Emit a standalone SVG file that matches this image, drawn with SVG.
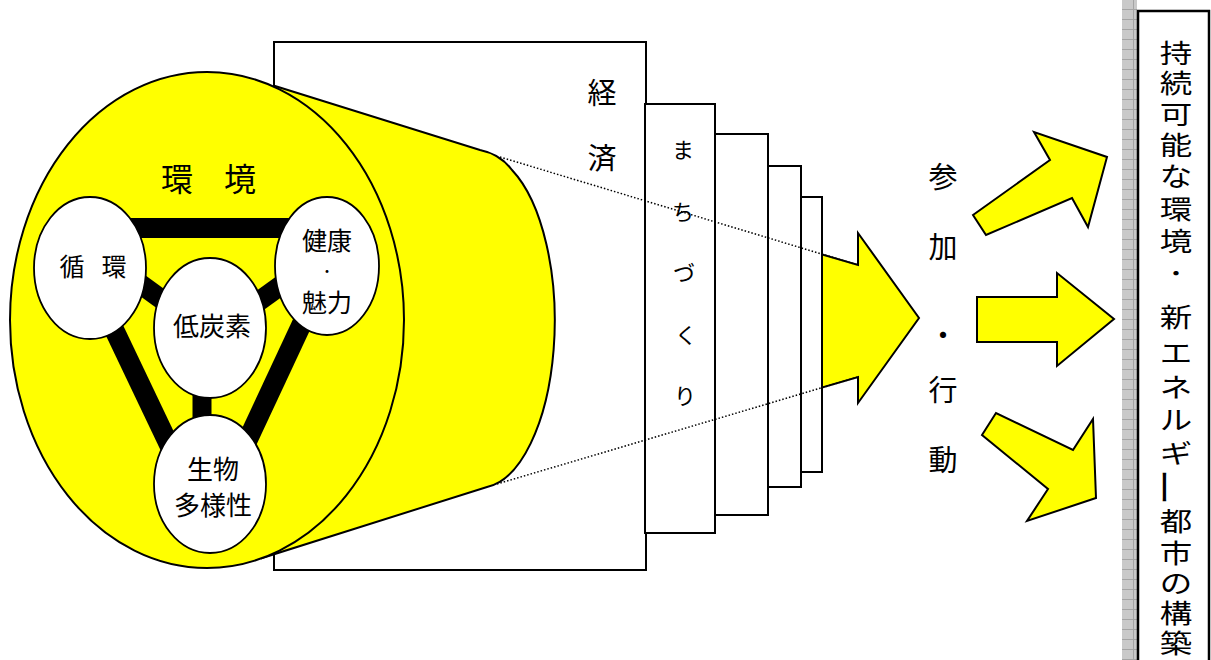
<svg xmlns="http://www.w3.org/2000/svg" width="1211" height="660" viewBox="0 0 1211 660">
<defs>
<style>
.t{font-family:'Noto Sans CJK JP','Noto Sans CJK SC',sans-serif;fill:#000;text-anchor:middle;dominant-baseline:central}
.box{fill:#fff;stroke:#000;stroke-width:2}
.yel{fill:#ffff00;stroke:#000;stroke-width:2;stroke-linejoin:miter}
.wel{fill:#fff;stroke:#000;stroke-width:1.8}
.bar{stroke:#000;stroke-width:20;fill:none}
.dot{stroke:#000;stroke-width:1.5;stroke-dasharray:1.5 2;fill:none}
</style>
<pattern id="grid" x="1122" y="0" width="15" height="10" patternUnits="userSpaceOnUse">
<rect width="15" height="10" fill="#c9c9c9"/>
<line x1="0" y1="9.5" x2="15" y2="9.5" stroke="#a4a4a4" stroke-width="1"/>
<line x1="11.5" y1="0" x2="11.5" y2="10" stroke="#a4a4a4" stroke-width="1"/>
</pattern>
</defs>

<g id="economy">
<rect class="box" x="274" y="42" width="372" height="528"/>
<text class="t" x="602" y="91" font-size="29">経</text>
<text class="t" x="602" y="156" font-size="29">済</text>
</g>

<g id="environment">
<path class="yel" d="M275,86 L480,150 Q500,154 512,170 A75,167 0 0 1 487,487 L262,558 Z"/>
<ellipse class="yel" cx="207" cy="320" rx="197" ry="248"/>
<text class="t" x="177" y="177" font-size="32">環</text>
<text class="t" x="240" y="177" font-size="32">境</text>
</g>

<g id="links">
<line class="bar" x1="120" y1="228" x2="300" y2="228"/>
<line class="bar" x1="110" y1="262" x2="190" y2="320"/>
<line class="bar" x1="305" y1="268" x2="230" y2="322"/>
<line class="bar" x1="100" y1="300" x2="182" y2="472"/>
<line class="bar" x1="320" y1="285" x2="236" y2="465"/>
<line stroke="#000" stroke-width="19" x1="202" y1="380" x2="202" y2="430"/>
</g>

<g id="node-junkan">
<ellipse class="wel" cx="90" cy="268" rx="56" ry="71"/>
<text class="t" x="72" y="265" font-size="25">循</text>
<text class="t" x="114" y="265" font-size="25">環</text>
</g>
<g id="node-kenko">
<ellipse class="wel" cx="327" cy="266" rx="52" ry="69"/>
<text class="t" x="327" y="239" font-size="25">健康</text>
<text class="t" x="327" y="270" font-size="14">・</text>
<text class="t" x="327" y="301" font-size="25">魅力</text>
</g>
<g id="node-teitanso">
<ellipse class="wel" cx="210" cy="328" rx="56" ry="70"/>
<text class="t" x="212" y="324" font-size="26">低炭素</text>
</g>
<g id="node-seibutsu">
<ellipse class="wel" cx="210" cy="484" rx="56" ry="69"/>
<text class="t" x="213" y="467" font-size="26">生物</text>
<text class="t" x="213" y="503" font-size="26">多様性</text>
</g>

<g id="arrow-main">
<path class="yel" d="M800,248 L858,265 L858,233 L919,318 L858,403 L858,377 L800,394 Z"/>
</g>

<g id="machizukuri">
<rect class="box" x="800" y="197" width="22" height="275"/>
<rect class="box" x="768" y="166" width="33" height="321"/>
<rect class="box" x="715" y="134" width="53" height="381"/>
<rect class="box" x="645" y="104" width="70" height="429"/>
<text class="t" x="683" y="148" font-size="22">ま</text>
<text class="t" x="683" y="210" font-size="22">ち</text>
<text class="t" x="684" y="271" font-size="22">づ</text>
<text class="t" x="686" y="333" font-size="22">く</text>
<text class="t" x="685" y="394" font-size="22">り</text>
</g>

<g id="connectors">
<line class="dot" x1="500" y1="157" x2="858" y2="265"/>
<line class="dot" x1="497" y1="484" x2="858" y2="377"/>
</g>

<g id="participation">
<text class="t" x="943" y="175" font-size="29">参</text>
<text class="t" x="943" y="245" font-size="29">加</text>
<text class="t" x="943" y="333" font-size="29">・</text>
<text class="t" x="943" y="388" font-size="29">行</text>
<text class="t" x="943" y="458" font-size="29">動</text>
</g>

<g id="arrows-out">
<polygon class="yel" points="973,215 1050,160 1034,132 1107,157 1088,227 1072,198 986,235"/>
<polygon class="yel" points="977,297 1057,297 1057,273 1114,319 1057,366 1057,342 977,342"/>
<polygon class="yel" points="982,435 996,413 1073,450 1093,419 1096,498 1027,521 1048,489"/>
</g>

<g id="goal">
<rect x="1122" y="0" width="15" height="660" fill="url(#grid)"/>
<rect x="1138" y="11" width="71" height="660" fill="#fff" stroke="#000" stroke-width="2.5"/>
<g transform="translate(1176 0) scale(1.25 1)">
<text class="t" x="0" y="52" font-size="26">持</text>
<text class="t" x="0" y="82" font-size="26">続</text>
<text class="t" x="0" y="113" font-size="26">可</text>
<text class="t" x="0" y="144" font-size="26">能</text>
<text class="t" x="0" y="175" font-size="26">な</text>
<text class="t" x="0" y="208" font-size="26">環</text>
<text class="t" x="0" y="240" font-size="26">境</text>
<text class="t" x="0" y="273" font-size="20">・</text>
<text class="t" x="0" y="316" font-size="26">新</text>
<text class="t" x="0" y="352" font-size="26">エ</text>
<text class="t" x="0" y="386" font-size="26">ネ</text>
<text class="t" x="0" y="419" font-size="26">ル</text>
<text class="t" x="0" y="452" font-size="26">ギ</text>
<text class="t" x="0" y="520" font-size="26">都</text>
<text class="t" x="0" y="552" font-size="26">市</text>
<text class="t" x="0" y="582" font-size="26">の</text>
<text class="t" x="0" y="612" font-size="26">構</text>
<text class="t" x="0" y="642" font-size="26">築</text>
</g>
<text class="t" x="1166" y="487" font-size="36" transform="rotate(90 1166 487)">ー</text>
</g>
</svg>
